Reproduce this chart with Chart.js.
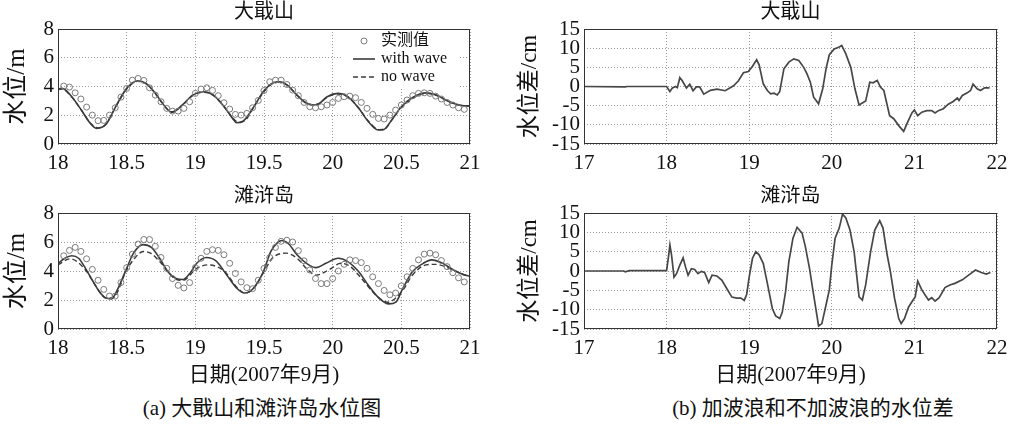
<!DOCTYPE html>
<html>
<head>
<meta charset="utf-8">
<script src="https://cdn.jsdelivr.net/npm/chart.js@4.4.0/dist/chart.umd.min.js"></script>
<style>
  html, body { margin: 0; padding: 0; background: #fff; }
  #wrap { position: relative; width: 1018px; height: 424px; overflow: hidden;
          font-family: 'Liberation Serif', 'Noto Sans CJK SC', serif; }
  canvas { position: absolute; }
  .cap { position: absolute; top: 396px; width: 400px; font-size: 21px; line-height: 24px;
         text-align: center; color: #111; }
</style>
</head>
<body>
<div id="wrap">
  <canvas id="c1" width="500" height="175" style="left:0;top:0"></canvas>
  <canvas id="c2" width="500" height="205" style="left:0;top:185px"></canvas>
  <canvas id="c3" width="518" height="175" style="left:500px;top:0"></canvas>
  <canvas id="c4" width="518" height="205" style="left:500px;top:185px"></canvas>
  <div class="cap" style="left:62px">(a) 大戢山和滩浒岛水位图</div>
  <div class="cap" style="left:613px">(b) 加波浪和不加波浪的水位差</div>
</div>
<script>
// ---- 大戢山 water level (m) ----
const djsWaveT = [18.00, 18.03, 18.10, 18.17, 18.235, 18.28, 18.35, 18.42, 18.50, 18.58, 18.64, 18.71, 18.74, 18.83, 18.91, 18.98,
  19.06, 19.13, 19.20, 19.27, 19.30, 19.35, 19.42, 19.50, 19.57, 19.61, 19.67, 19.74, 19.80, 19.85, 19.90, 19.96,
  20.04, 20.11, 20.19, 20.26, 20.33, 20.37, 20.43, 20.50, 20.58, 20.68, 20.75, 20.85, 20.94, 21.00];
const djsWave = [3.82, 3.87, 3.29, 2.36, 1.44, 1.09, 1.37, 2.60, 3.87, 4.40, 4.22, 3.52, 3.10, 2.20, 2.75, 3.40,
  3.64, 3.41, 2.71, 1.80, 1.48, 1.60, 2.50, 3.70, 4.28, 4.33, 4.10, 3.40, 2.89, 2.71, 2.80, 3.29,
  3.52, 3.29, 2.48, 1.55, 0.97, 1.00, 1.67, 2.59, 3.22, 3.56, 3.42, 2.94, 2.68, 2.66];
const djsNoWaveT = [18.00, 18.03, 18.10, 18.17, 18.235, 18.29, 18.35, 18.42, 18.50, 18.58, 18.64, 18.71, 18.74, 18.83, 18.91, 18.98,
  19.06, 19.13, 19.20, 19.27, 19.31, 19.36, 19.42, 19.50, 19.57, 19.61, 19.67, 19.74, 19.80, 19.85, 19.90, 19.96,
  20.04, 20.11, 20.19, 20.26, 20.34, 20.38, 20.43, 20.50, 20.58, 20.68, 20.75, 20.85, 20.94, 21.00];
const djsNoWave = [3.78, 3.83, 3.27, 2.36, 1.46, 1.12, 1.40, 2.58, 3.82, 4.36, 4.20, 3.50, 3.10, 2.24, 2.74, 3.36,
  3.60, 3.40, 2.72, 1.84, 1.52, 1.62, 2.48, 3.64, 4.24, 4.30, 4.08, 3.40, 2.90, 2.73, 2.80, 3.26,
  3.48, 3.28, 2.50, 1.60, 1.00, 1.04, 1.66, 2.56, 3.18, 3.52, 3.40, 2.94, 2.68, 2.64];
const djsObs = [4.03, 3.96, 3.56, 3.13, 2.57, 2.01, 1.62, 1.64, 2.01, 2.52,
  3.26, 3.87, 4.44, 4.56, 4.42, 3.91, 3.40, 2.94, 2.48, 2.29,
  2.29, 2.48, 2.94, 3.52, 3.82, 3.91, 3.73, 3.36, 2.87, 2.43,
  2.06, 2.01, 2.13, 2.52, 3.03, 3.72, 4.33, 4.44, 4.44, 4.14,
  3.75, 3.36, 2.89, 2.59, 2.52, 2.59, 2.71, 2.89, 3.17, 3.29,
  3.33, 3.22, 2.89, 2.48, 2.06, 1.78, 1.74, 2.01, 2.36, 2.71,
  3.06, 3.36, 3.52, 3.56, 3.52, 3.33, 3.13, 2.89, 2.71, 2.52, 2.41];

// ---- 滩浒岛 water level (m) ----
const thdWaveT = [18.00, 18.05, 18.10, 18.15, 18.20, 18.25, 18.30, 18.35, 18.39, 18.43, 18.50, 18.55, 18.62, 18.68, 18.74, 18.80,
  18.86, 18.91, 18.96, 19.01, 19.08, 19.15, 19.23, 19.30, 19.36, 19.42, 19.49, 19.55, 19.60, 19.63, 19.68, 19.74,
  19.82, 19.88, 19.95, 20.04, 20.11, 20.19, 20.26, 20.33, 20.41, 20.46, 20.51, 20.58, 20.66, 20.72, 20.80, 20.88, 20.95, 21.00];
const thdWave = [4.53, 4.88, 5.05, 4.88, 4.18, 3.36, 2.59, 2.13, 2.08, 2.66, 4.18, 5.23, 5.82, 5.63, 4.88, 3.95,
  3.48, 3.41, 3.83, 4.53, 4.93, 4.70, 3.71, 2.83, 2.48, 2.78, 3.83, 5.35, 5.98, 6.10, 5.86, 5.12,
  4.46, 4.23, 4.53, 4.88, 4.65, 3.95, 3.01, 2.20, 1.73, 1.85, 2.78, 3.95, 4.53, 4.77, 4.53, 4.07, 3.76, 3.64];
const thdNoWaveT = [18.00, 18.09, 18.20, 18.28, 18.35, 18.40, 18.50, 18.56, 18.62, 18.68, 18.74, 18.86, 18.91, 19.01, 19.09, 19.21,
  19.30, 19.36, 19.42, 19.50, 19.56, 19.66, 19.74, 19.82, 19.88, 19.97, 20.06, 20.13, 20.21, 20.33, 20.40, 20.51,
  20.58, 20.68, 20.75, 20.85, 20.95, 21.00];
const thdNoWave = [4.42, 4.84, 4.07, 2.90, 2.13, 2.15, 4.07, 4.90, 5.35, 5.20, 4.65, 3.43, 3.36, 4.18, 4.42, 4.00,
  2.90, 2.48, 2.75, 3.95, 4.88, 5.23, 4.88, 4.07, 3.71, 4.07, 4.53, 4.30, 3.48, 2.20, 1.85, 2.66,
  3.71, 4.42, 4.46, 4.18, 3.76, 3.60];
const thdObs = [5.05, 5.42, 5.63, 5.35, 4.84, 4.11, 3.36, 2.73, 2.27, 2.27,
  3.20, 4.23, 5.16, 5.86, 6.17, 6.17, 5.70, 4.93, 4.18, 3.48,
  3.01, 2.83, 3.20, 4.23, 4.88, 5.35, 5.47, 5.42, 5.12, 4.53,
  3.83, 3.25, 2.85, 2.78, 3.36, 4.18, 4.93, 5.63, 6.05, 6.12,
  6.00, 5.40, 4.70, 4.07, 3.48, 3.13, 3.13, 3.48, 4.00, 4.46,
  4.77, 4.72, 4.58, 4.18, 3.60, 3.13, 2.66, 2.36, 2.48, 2.97,
  3.60, 4.18, 4.77, 5.16, 5.23, 5.12, 4.72, 4.30, 3.88, 3.53, 3.25];

// ---- level difference, with wave minus no wave (cm) ----
const djsDiffT = [17.00, 17.50, 17.52, 18.00, 18.04, 18.07, 18.11, 18.13, 18.16, 18.19, 18.24, 18.28, 18.32, 18.36, 18.40, 18.45,
  18.53, 18.61, 18.71, 18.81, 18.87, 18.93, 18.99, 19.04, 19.09, 19.12, 19.17, 19.22, 19.26, 19.30, 19.34, 19.37,
  19.42, 19.48, 19.54, 19.60, 19.66, 19.70, 19.74, 19.78, 19.84, 19.89, 19.93, 19.97, 20.03, 20.09, 20.12, 20.17,
  20.23, 20.28, 20.33, 20.37, 20.41, 20.46, 20.50, 20.55, 20.59, 20.63, 20.70, 20.75, 20.81, 20.87, 20.91, 20.97,
  21.00, 21.04, 21.09, 21.15, 21.21, 21.25, 21.29, 21.35, 21.41, 21.47, 21.52, 21.54, 21.58, 21.64, 21.68, 21.71,
  21.76, 21.80, 21.85, 21.91];
const djsDiff = [0, -0.1, 0, 0, -1.3, -0.4, 0.0, -0.3, 2.3, 1.5, -0.4, 0.6, -1.1, -0.1, -0.1, -2.0,
  -1.0, -0.7, -1.1, 0.2, 1.5, 3.6, 3.9, 5.3, 6.96, 5.65, 0.7, -1.04, -1.9, -1.74, -2.2, -1.3,
  4.6, 6.35, 7.2, 6.8, 5.0, 3.3, 1.13, -2.8, -4.5, -0.6, 4.6, 8.3, 9.8, 10.3, 10.7, 8.5,
  5.0, -0.6, -4.8, -4.3, -3.8, 1.1, 0.96, 1.6, -0.2, -1.04, -7.6, -8.4, -10.2, -11.7, -9.7, -6.9,
  -6.1, -7.6, -6.7, -6.3, -6.3, -6.9, -6.3, -5.8, -4.6, -3.9, -3.0, -3.65, -2.35, -1.65, -1.04, 0.6,
  -0.6, -1.04, -0.35, -0.35];
const thdDiffT = [17.00, 17.48, 17.50, 17.55, 18.00, 18.02, 18.04, 18.06, 18.09, 18.12, 18.16, 18.20, 18.23, 18.26, 18.30, 18.34,
  18.38, 18.42, 18.46, 18.51, 18.55, 18.61, 18.67, 18.73, 18.79, 18.85, 18.90, 18.94, 18.97, 19.00, 19.04, 19.08,
  19.12, 19.17, 19.22, 19.28, 19.32, 19.37, 19.40, 19.44, 19.48, 19.53, 19.58, 19.64, 19.68, 19.73, 19.78, 19.84,
  19.88, 19.93, 19.97, 20.00, 20.04, 20.09, 20.13, 20.17, 20.22, 20.27, 20.33, 20.37, 20.41, 20.47, 20.52, 20.58,
  20.62, 20.67, 20.71, 20.76, 20.81, 20.84, 20.88, 20.93, 20.99, 21.01, 21.04, 21.09, 21.17, 21.21, 21.25, 21.30,
  21.37, 21.43, 21.49, 21.58, 21.66, 21.74, 21.81, 21.87, 21.92];
const thdDiff = [0, 0, -0.2, 0.1, 0.1, 3.2, 6.7, 4.1, -1.6, -0.7, 1.5, 3.4, 1.0, -1.1, 0.6, 0.4,
  -0.7, -0.1, -0.4, -3.0, -1.1, -1.3, -2.4, -4.6, -6.75, -7.0, -7.0, -7.6, -6.0, -1.5, 3.3, 5.0,
  4.2, 2.0, -3.2, -9.7, -11.6, -12.3, -10.7, -5.4, 2.4, 8.5, 11.3, 9.8, 6.3, 0.7, -6.2, -14.2,
  -13.6, -8.8, -4.9, 1.6, 8.5, 11.1, 14.7, 13.7, 10.6, 5.0, -6.7, -7.5, -3.6, 5.0, 10.6, 13.0,
  11.1, 4.2, -0.2, -7.1, -12.3, -13.6, -12.3, -9.3, -7.3, -6.7, -2.6, -4.9, -7.5, -6.9, -7.8, -6.9,
  -4.3, -3.6, -3.2, -2.3, -1.0, 0.26, -0.4, -0.8, -0.4];

const levelTicks = [0, 2, 4, 6, 8];
const diffTicks = [-15, -10, -5, 0, 5, 10, 15];

const FONT = "'Liberation Serif', 'Noto Sans CJK SC', serif";
Chart.defaults.font.family = FONT;
Chart.defaults.color = '#111';

const pts = (xs, ys) => xs.map((x, i) => ({x: x, y: ys[i]}));
const hourly = (ys) => ys.map((y, i) => ({x: 18 + (i + 1) / 24, y: y}));

// box round the plot area
const frame = {
    id: 'frame',
    afterDraw: function(chart) {
        const a = chart.chartArea;
        const ctx = chart.ctx;
        ctx.save();
        ctx.strokeStyle = '#333';
        ctx.lineWidth = 1;
        ctx.strokeRect(Math.round(a.left) + 0.5, Math.round(a.top) + 0.5,
            Math.round(a.right - a.left) - 1, Math.round(a.bottom - a.top) - 1);
        ctx.restore();
    }
};

// legend inside the top-left panel, from the dataset styles
const innerLegend = {
    id: 'innerLegend',
    afterDatasetsDraw: function(chart) {
        const ctx = chart.ctx;
        const a = chart.chartArea;
        const x0 = a.right - 117, y0 = a.top + 12;
        ctx.save();
        ctx.fillStyle = '#fff';
        ctx.fillRect(x0 - 10, a.top + 1, 115, 58);
        chart.data.datasets.forEach(function(ds, i) {
            const y = y0 + i * 18;
            ctx.strokeStyle = ds.borderColor;
            ctx.lineWidth = ds.borderWidth;
            if (ds.showLine === false) {
                ctx.setLineDash([]);
                ctx.beginPath();
                ctx.arc(x0 + 11, y, ds.pointRadius, 0, Math.PI * 2);
                ctx.stroke();
            } else {
                ctx.setLineDash(ds.borderDash || []);
                ctx.beginPath();
                ctx.moveTo(x0, y);
                ctx.lineTo(x0 + 22, y);
                ctx.stroke();
            }
            ctx.setLineDash([]);
            ctx.fillStyle = '#111';
            ctx.font = '16px ' + FONT;
            ctx.textBaseline = 'middle';
            ctx.fillText(ds.label, x0 + 28, y);
        });
        ctx.restore();
    }
};

const makePanel = function(id, o) {
    const ctx = document.getElementById(id);
    const xScale = {
        type: 'linear',
        min: o.xMin, max: o.xMax,
        afterFit: function(s) { s.height = o.xHeight; },
        ticks: { stepSize: o.xStep, autoSkip: false, maxRotation: 0, padding: 7,
                 font: { size: 21 }, color: '#111',
                 callback: function(v) { return String(Math.round(v * 10) / 10); } },
        grid: { color: '#9a9a9a', lineWidth: 1, drawTicks: false },
        border: { display: false, dash: [1, 2] },
        title: { display: !!o.xTitle, text: o.xTitle || '', font: { size: 21 },
                 color: '#111', padding: { top: 0, bottom: 2 } }
    };
    const yScale = {
        min: o.yMin, max: o.yMax,
        afterFit: function(s) { s.width = o.yWidth; },
        afterBuildTicks: function(s) { s.ticks = o.yTicks.map(function(v) { return {value: v}; }); },
        ticks: { padding: 4, autoSkip: false, font: { size: 21 }, color: '#111',
                 callback: function(v) { return String(v); } },
        grid: { color: '#9a9a9a', lineWidth: 1, drawTicks: false },
        border: { display: false, dash: [1, 2] },
        title: { display: true, text: o.yTitle, font: { size: o.yTitleSize }, color: '#111',
                 padding: { top: o.yTitlePad, bottom: 0 } }
    };
    return new Chart(ctx, {
        type: 'line',
        data: { datasets: o.datasets },
        options: {
            responsive: false,
            animation: false,
            devicePixelRatio: 1,
            layout: { padding: { left: 0, right: o.padRight, top: 0, bottom: 0 } },
            scales: { x: xScale, y: yScale },
            plugins: {
                legend: { display: false },
                tooltip: { enabled: false },
                title: { display: true, text: o.title, fullSize: false, color: '#111',
                         font: { size: 20, weight: 'normal' }, padding: o.titlePad }
            }
        },
        plugins: o.plugins
    });
};

const levelSets = function(obs, waveT, wave, noT, no) {
    return [{
        label: '实测值',
        data: hourly(obs),
        showLine: false,
        pointRadius: 3,
        pointStyle: 'circle',
        pointBorderWidth: 1,
        borderWidth: 1,
        borderColor: '#7a7a7a',
        backgroundColor: 'rgba(0,0,0,0)',
        pointBackgroundColor: 'rgba(0,0,0,0)'
    }, {
        label: 'with wave',
        data: pts(waveT, wave),
        borderColor: '#3a3a3a',
        borderWidth: 1.6,
        pointRadius: 0,
        cubicInterpolationMode: 'monotone'
    }, {
        label: 'no wave',
        data: pts(noT, no),
        borderColor: '#3a3a3a',
        borderWidth: 1.4,
        borderDash: [5, 3],
        pointRadius: 0,
        cubicInterpolationMode: 'monotone'
    }];
};

const diffSet = function(t, v) {
    return [{
        label: 'diff',
        data: pts(t, v),
        borderColor: '#474747',
        borderWidth: 1.7,
        pointRadius: 0,
        tension: 0
    }];
};

makePanel('c1', {
    title: '大戢山', titlePad: { top: 1, bottom: 4 },
    xMin: 18, xMax: 21, xStep: 0.5, xHeight: 31,
    yMin: 0, yMax: 8, yTicks: levelTicks, yWidth: 58,
    yTitle: '水位/m', yTitleSize: 25, yTitlePad: 2,
    padRight: 30,
    datasets: levelSets(djsObs, djsWaveT, djsWave, djsNoWaveT, djsNoWave),
    plugins: [frame, innerLegend]
});
makePanel('c2', {
    title: '滩浒岛', titlePad: { top: 0, bottom: 4 },
    xMin: 18, xMax: 21, xStep: 0.5, xHeight: 61, xTitle: '日期(2007年9月)',
    yMin: 0, yMax: 8, yTicks: levelTicks, yWidth: 58,
    yTitle: '水位/m', yTitleSize: 25, yTitlePad: 2,
    padRight: 30,
    datasets: levelSets(thdObs, thdWaveT, thdWave, thdNoWaveT, thdNoWave),
    plugins: [frame]
});
makePanel('c3', {
    title: '大戢山', titlePad: { top: 1, bottom: 4 },
    xMin: 17, xMax: 22, xStep: 1, xHeight: 31,
    yMin: -15, yMax: 15, yTicks: diffTicks, yWidth: 84,
    yTitle: '水位差/cm', yTitleSize: 23, yTitlePad: 16,
    padRight: 21,
    datasets: diffSet(djsDiffT, djsDiff),
    plugins: [frame]
});
makePanel('c4', {
    title: '滩浒岛', titlePad: { top: 0, bottom: 4 },
    xMin: 17, xMax: 22, xStep: 1, xHeight: 61, xTitle: '日期(2007年9月)',
    yMin: -15, yMax: 15, yTicks: diffTicks, yWidth: 84,
    yTitle: '水位差/cm', yTitleSize: 23, yTitlePad: 16,
    padRight: 21,
    datasets: diffSet(thdDiffT, thdDiff),
    plugins: [frame]
});
</script>
</body>
</html>
